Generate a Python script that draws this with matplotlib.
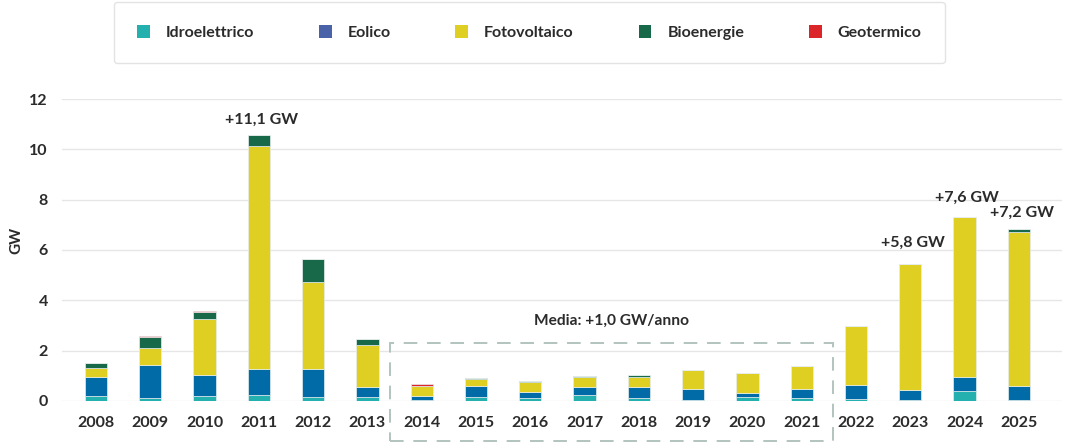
import numpy as np
import matplotlib.pyplot as plt
from matplotlib.patches import Patch, Rectangle

plt.rcParams['font.family'] = ['Lato', 'DejaVu Sans']

anni = ['2008', '2009', '2010', '2011', '2012', '2013', '2014', '2015', '2016',
        '2017', '2018', '2019', '2020', '2021', '2022', '2023', '2024', '2025']

# GW installati per fonte
idro = [0.20, 0.13, 0.20, 0.24, 0.17, 0.16, 0.05, 0.16, 0.13,
        0.24, 0.12, 0.03, 0.17, 0.13, 0.07, 0.02, 0.38, 0.03]
eolico = [0.76, 1.29, 0.83, 1.04, 1.11, 0.41, 0.15, 0.44, 0.23,
          0.33, 0.45, 0.46, 0.16, 0.33, 0.56, 0.42, 0.59, 0.57]
fotovoltaico = [0.34, 0.68, 2.22, 8.84, 3.45, 1.65, 0.41, 0.28, 0.38,
                0.39, 0.39, 0.74, 0.77, 0.92, 2.35, 5.01, 6.33, 6.10]
bio = [0.20, 0.45, 0.28, 0.45, 0.93, 0.24, 0.00, 0.03, 0.06,
       0.02, 0.07, 0.00, 0.00, 0.00, 0.00, 0.00, 0.00, 0.13]
geo = [0.00, 0.03, 0.06, 0.00, 0.00, 0.00, 0.06, 0.00, 0.00,
       0.00, 0.00, 0.00, 0.00, 0.00, 0.00, 0.00, 0.00, 0.00]

serie = [('Idroelettrico', idro, '#25b0b0', '#25b0b0'),
         ('Eolico', eolico, '#006ba6', '#4a62a8'),
         ('Fotovoltaico', fotovoltaico, '#dfcf22', '#dfcf22'),
         ('Bioenergie', bio, '#17694a', '#17694a'),
         ('Geotermico', geo, '#db2529', '#db2529')]

etichette = {'2011': ('+11,1 GW', 11.16), '2023': ('+5,8 GW', 6.28),
             '2024': ('+7,6 GW', 8.07), '2025': ('+7,2 GW', 7.47)}

testo = '#2b2b2b'
x = np.arange(len(anni))

fig = plt.figure(figsize=(10.65, 4.45), dpi=100)
ax = fig.add_axes([0.058, 0.099, 0.939, 0.6785])

base = np.zeros(len(anni))
for nome, val, col, _ in serie:
    val = np.array(val)
    ax.bar(x, val, width=0.41, bottom=base, color=col,
           edgecolor='#e6eeee', linewidth=0.5, zorder=3)
    base += val

for anno, (txt, y) in etichette.items():
    i = anni.index(anno)
    ax.text(x[i] + 0.05, y, txt, ha='center', va='center', fontsize=11.5,
            fontweight='bold', color=testo)

# riquadro della media
ax.add_patch(Rectangle((5.41, -1.6), 8.16, 3.9, fill=False, edgecolor='#b2c4bf',
                       linewidth=1.4, linestyle=(0, (7, 5)), clip_on=False, zorder=4))
ax.text(9.49, 3.18, 'Media: +1,0 GW/anno', ha='center', va='center',
        fontsize=11.2, fontweight='bold', color=testo)

ax.set_xlim(-0.63, 17.79)
ax.set_ylim(0, 12)
ax.set_yticks([0, 2, 4, 6, 8, 10, 12])
ax.set_xticks(x)
ax.set_xticklabels(anni)
ax.grid(axis='y', color='#e6e6e6', linewidth=1, zorder=0)
for s in ax.spines.values():
    s.set_visible(False)
ax.tick_params(length=0, labelsize=11.5, labelcolor=testo)
ax.tick_params(axis='x', pad=11)
ax.tick_params(axis='y', pad=10)
for lab in ax.get_xticklabels() + ax.get_yticklabels():
    lab.set_fontweight('bold')
ax.set_ylabel('GW', fontsize=11, fontweight='bold', color=testo)
ax.yaxis.set_label_coords(-0.038, 0.53)

handles = [Patch(facecolor=lc, label=n) for n, _, _, lc in serie]
leg = fig.legend(handles=handles, loc='lower left', ncol=5, mode='expand',
                 bbox_to_anchor=(0.0995, 0.84, 0.795, 0.135), fontsize=11.5,
                 handlelength=0.8, handleheight=0.8, handletextpad=1.0,
                 borderpad=1.45, frameon=True, fancybox=True)
leg.get_frame().set_edgecolor('#dddddd')
leg.get_frame().set_linewidth(1)
for t in leg.get_texts():
    t.set_fontweight('bold')
    t.set_color(testo)

fig.savefig('out.png', dpi=100)
